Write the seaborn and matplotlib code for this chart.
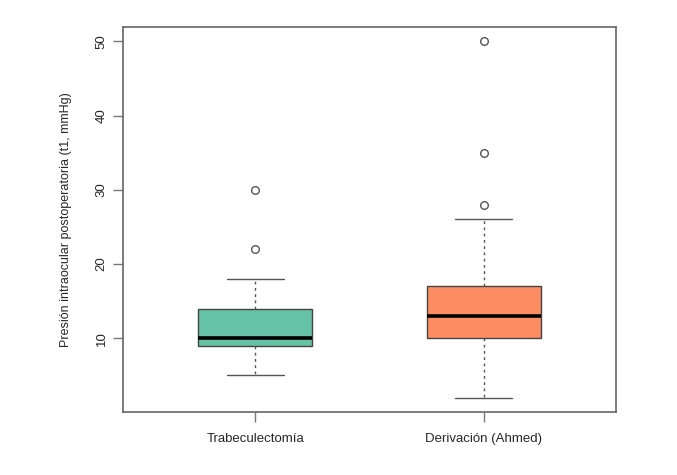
import numpy as np
import pandas as pd
import seaborn as sns
import matplotlib
matplotlib.use("Agg")
import matplotlib.pyplot as plt

sns.set_style("ticks")
plt.rcParams["font.family"] = ["Liberation Sans", "DejaVu Sans"]

# valores (mmHg)
grupos = ["Trabeculectomía", "Derivación (Ahmed)"]
trabeculectomia = [5, 8, 9, 9, 10, 10, 10, 12, 14, 14, 18, 22, 30]
ahmed = [2, 5, 7, 8, 9, 10, 11, 12, 12, 13, 13, 14, 15, 15, 16, 17, 22, 26, 28, 35, 50]
colores = ["#66C2A5", "#FC8D62"]
yticks = [10, 20, 30, 40, 50]

df = pd.DataFrame({
    "grupo": [grupos[0]] * len(trabeculectomia) + [grupos[1]] * len(ahmed),
    "pio": trabeculectomia + ahmed,
})

edge = "#444444"
fig = plt.figure(figsize=(6.77, 4.75), dpi=100)
ax = fig.add_axes([0.1817, 0.1326, 0.7282, 0.8106])

sns.boxplot(data=df, x="grupo", y="pio", hue="grupo", palette=colores,
            order=grupos, hue_order=grupos, legend=False, width=0.5, ax=ax,
            saturation=1, whis=1.5, linecolor=edge, linewidth=1,
            boxprops=dict(edgecolor=edge, linewidth=1),
            whiskerprops=dict(color="#555555", linestyle=(0, (2, 2.5)), linewidth=1),
            capprops=dict(color="#555555", linewidth=1),
            medianprops=dict(color="black", linewidth=2.6),
            flierprops=dict(marker="o", markerfacecolor="none",
                            markeredgecolor="#555555", markersize=5.5,
                            markeredgewidth=1))

ax.set_xlim(-0.58, 1.58)
ax.set_ylim(0.08, 51.92)
ax.set_yticks(yticks)
ax.set_yticklabels([str(t) for t in yticks], rotation=90, va="center")
ax.set_xlabel("")
ax.set_ylabel("Presión intraocular postoperatoria (t1, mmHg)", fontsize=9, labelpad=17)
ax.tick_params(axis="both", labelsize=9.5, length=7, width=1, color="#777777")
ax.tick_params(axis="x", pad=8)
ax.tick_params(axis="y", pad=4)
for s in ax.spines.values():
    s.set_visible(True)
    s.set_color("#666666")
    s.set_linewidth(1.2)

fig.savefig("out.png", dpi=100)
